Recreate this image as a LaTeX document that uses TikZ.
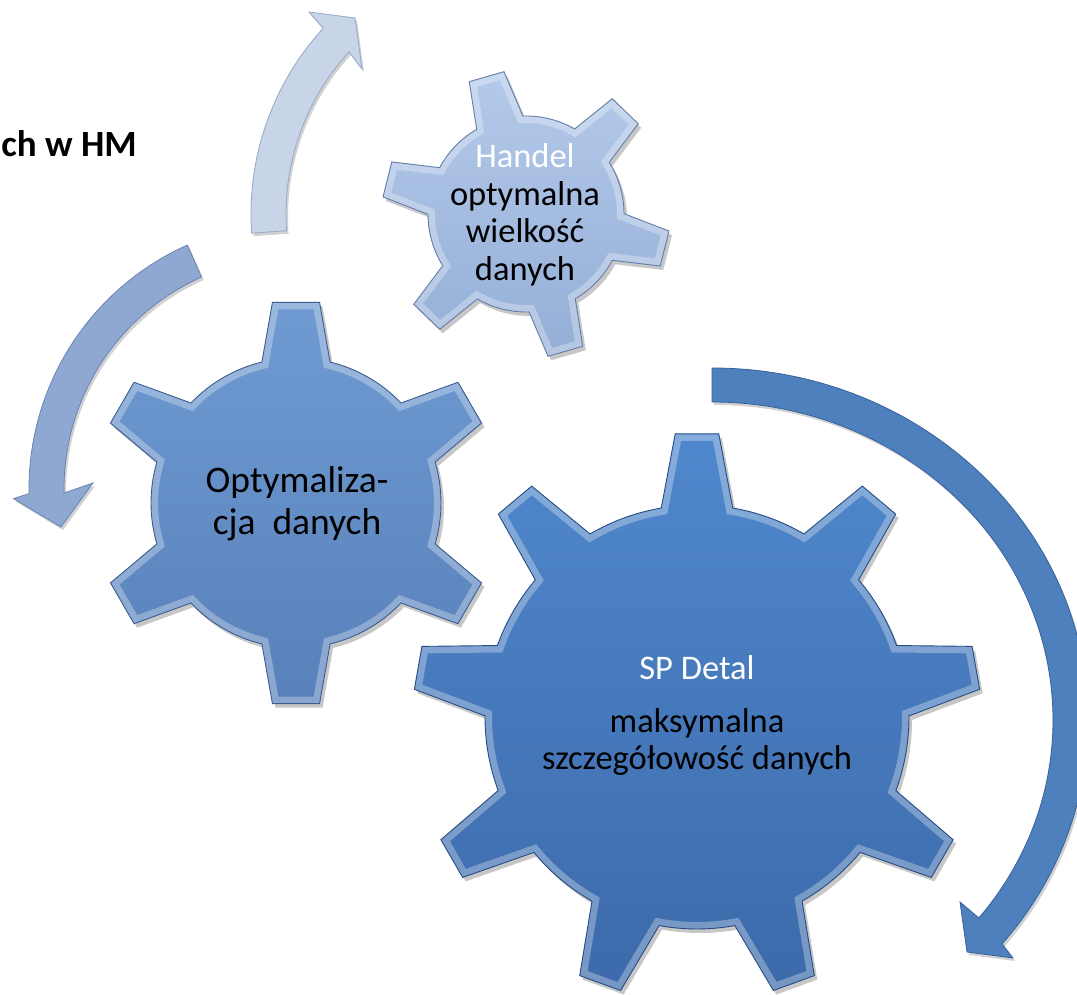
\documentclass[tikz,border=0pt]{standalone}
\usepackage{fontspec}
\setmainfont{Carlito}
\usetikzlibrary{shadings}
\definecolor{bigA}{RGB}{80,136,205}
\definecolor{bigB}{RGB}{60,106,170}
\definecolor{bigE}{RGB}{38,76,130}
\definecolor{midA}{RGB}{112,155,210}
\definecolor{midB}{RGB}{88,128,186}
\definecolor{midE}{RGB}{58,92,142}
\definecolor{smlA}{RGB}{180,202,234}
\definecolor{smlB}{RGB}{148,174,214}
\definecolor{smlE}{RGB}{98,126,168}
\definecolor{arrL}{RGB}{200,213,233}
\definecolor{arrLE}{RGB}{150,168,198}
\definecolor{arrM}{RGB}{142,168,210}
\definecolor{arrME}{RGB}{105,132,178}
\definecolor{arrD}{RGB}{78,128,189}
\definecolor{arrDE}{RGB}{55,98,155}
% #1 last index, #2 first angle, #3 step, #4 root r, #5 tip R, #6 base half-angle, #7 tip half-angle
\newcommand\gearp[7]{(#2-#6:#4)
  \foreach \k [evaluate=\k as \ga using #2+\k*#3] in {0,...,#1}{
    -- (\ga-#6:#4) -- (\ga-#7:#5) -- (\ga+#7:#5) -- (\ga+#6:#4)
    arc[start angle=\ga+#6, end angle=\ga+#3-#6, radius=#4]
  } -- cycle}
\def\bigpath{\gearp{8}{90}{40}{212}{284}{9.7}{4.4}}
\def\midpath{\gearp{5}{90}{60}{145}{202}{13.6}{6.7}}
\def\smlpath{\gearp{5}{106}{60}{98}{144}{14.2}{7.2}}
\newcommand\drawgearat[5]{% #1 position, #2 path, #3 top, #4 bottom, #5 edge
  \begin{scope}[shift={#1}]
    \fill[black, opacity=.22, shift={(3,-4)}] #2;
    \shade[top color=#3, bottom color=#4] #2;
    \begin{scope}
      \clip #2;
      \draw[white, opacity=.30, line width=14] #2;
    \end{scope}
    \draw[#5, line width=.9] #2;
  \end{scope}}
\tikzset{
  gtext/.style={align=center, inner sep=0pt, text=black},
  arrowshape/.style={line width=.8, line join=miter},
  shadowcopy/.style={black, opacity=.18, shift={(2,-3)}}
}
\begin{document}
\begin{tikzpicture}[x=1pt, y=1pt]
\clip (0,0) rectangle (1077,994);
\fill[white] (0,0) rectangle (1077,994);

% title fragment
\node[anchor=base east, inner sep=0pt, font=\fontsize{37}{40}\selectfont\bfseries] (title) at (137,837) {ch w HM};

% arrows
\fill[shadowcopy] ([shift={(526,780)}]184:275) arc[start angle=184, end angle=137.5, radius=275]
  -- (309,982) -- (355,976) -- (362,925) -- ([shift={(526,780)}]137.5:240)
  arc[start angle=137.5, end angle=184, radius=240] -- cycle;
\filldraw[arrowshape, fill=arrL, draw=arrLE] ([shift={(526,780)}]184:275) arc[start angle=184, end angle=137.5, radius=275]
  -- (309,982) -- (355,976) -- (362,925) -- ([shift={(526,780)}]137.5:240)
  arc[start angle=137.5, end angle=184, radius=240] -- cycle;

\fill[shadowcopy] ([shift={(296,505)}]114:267) arc[start angle=114, end angle=181, radius=267]
  -- (13.5,495.4) -- (61,467) -- (93,511) -- ([shift={(296,505)}]181:232)
  arc[start angle=181, end angle=114, radius=232] -- cycle;
\filldraw[arrowshape, fill=arrM, draw=arrME] ([shift={(296,505)}]114:267) arc[start angle=114, end angle=181, radius=267]
  -- (13.5,495.4) -- (61,467) -- (93,511) -- ([shift={(296,505)}]181:232)
  arc[start angle=181, end angle=114, radius=232] -- cycle;

\fill[shadowcopy] ([shift={(712,274)}]90:376 and 352) arc[start angle=90, end angle=-39.5, x radius=376, y radius=352]
  -- (1013,36) -- (967,42) -- (960,92) -- ([shift={(712,274)}]-38.5:341 and 318)
  arc[start angle=-38.5, end angle=90, x radius=341, y radius=318] -- cycle;
\filldraw[arrowshape, fill=arrD, draw=arrDE] ([shift={(712,274)}]90:376 and 352) arc[start angle=90, end angle=-39.5, x radius=376, y radius=352]
  -- (1013,36) -- (967,42) -- (960,92) -- ([shift={(712,274)}]-38.5:341 and 318)
  arc[start angle=-38.5, end angle=90, x radius=341, y radius=318] -- cycle;

% gears
\drawgearat{(526,780)}{\smlpath}{smlA}{smlB}{smlE}
\drawgearat{(296,491)}{\midpath}{midA}{midB}{midE}
\drawgearat{(697,277)}{\bigpath}{bigA}{bigB}{bigE}

% texts
\node[gtext, font=\fontsize{34.5}{37.5}\selectfont] (handel) at (525,779)
  {\textcolor{white}{Handel}\\optymalna\\wielkość\\danych};
\node[gtext, font=\fontsize{37.5}{42}\selectfont] (optym) at (297,490)
  {Optymaliza-\\cja\ \ danych};
\node[gtext, font=\fontsize{34.5}{37}\selectfont] (spdetal) at (697,279)
  {\textcolor{white}{SP Detal}\\[16pt]maksymalna\\szczegółowość danych};
\end{tikzpicture}
\end{document}
